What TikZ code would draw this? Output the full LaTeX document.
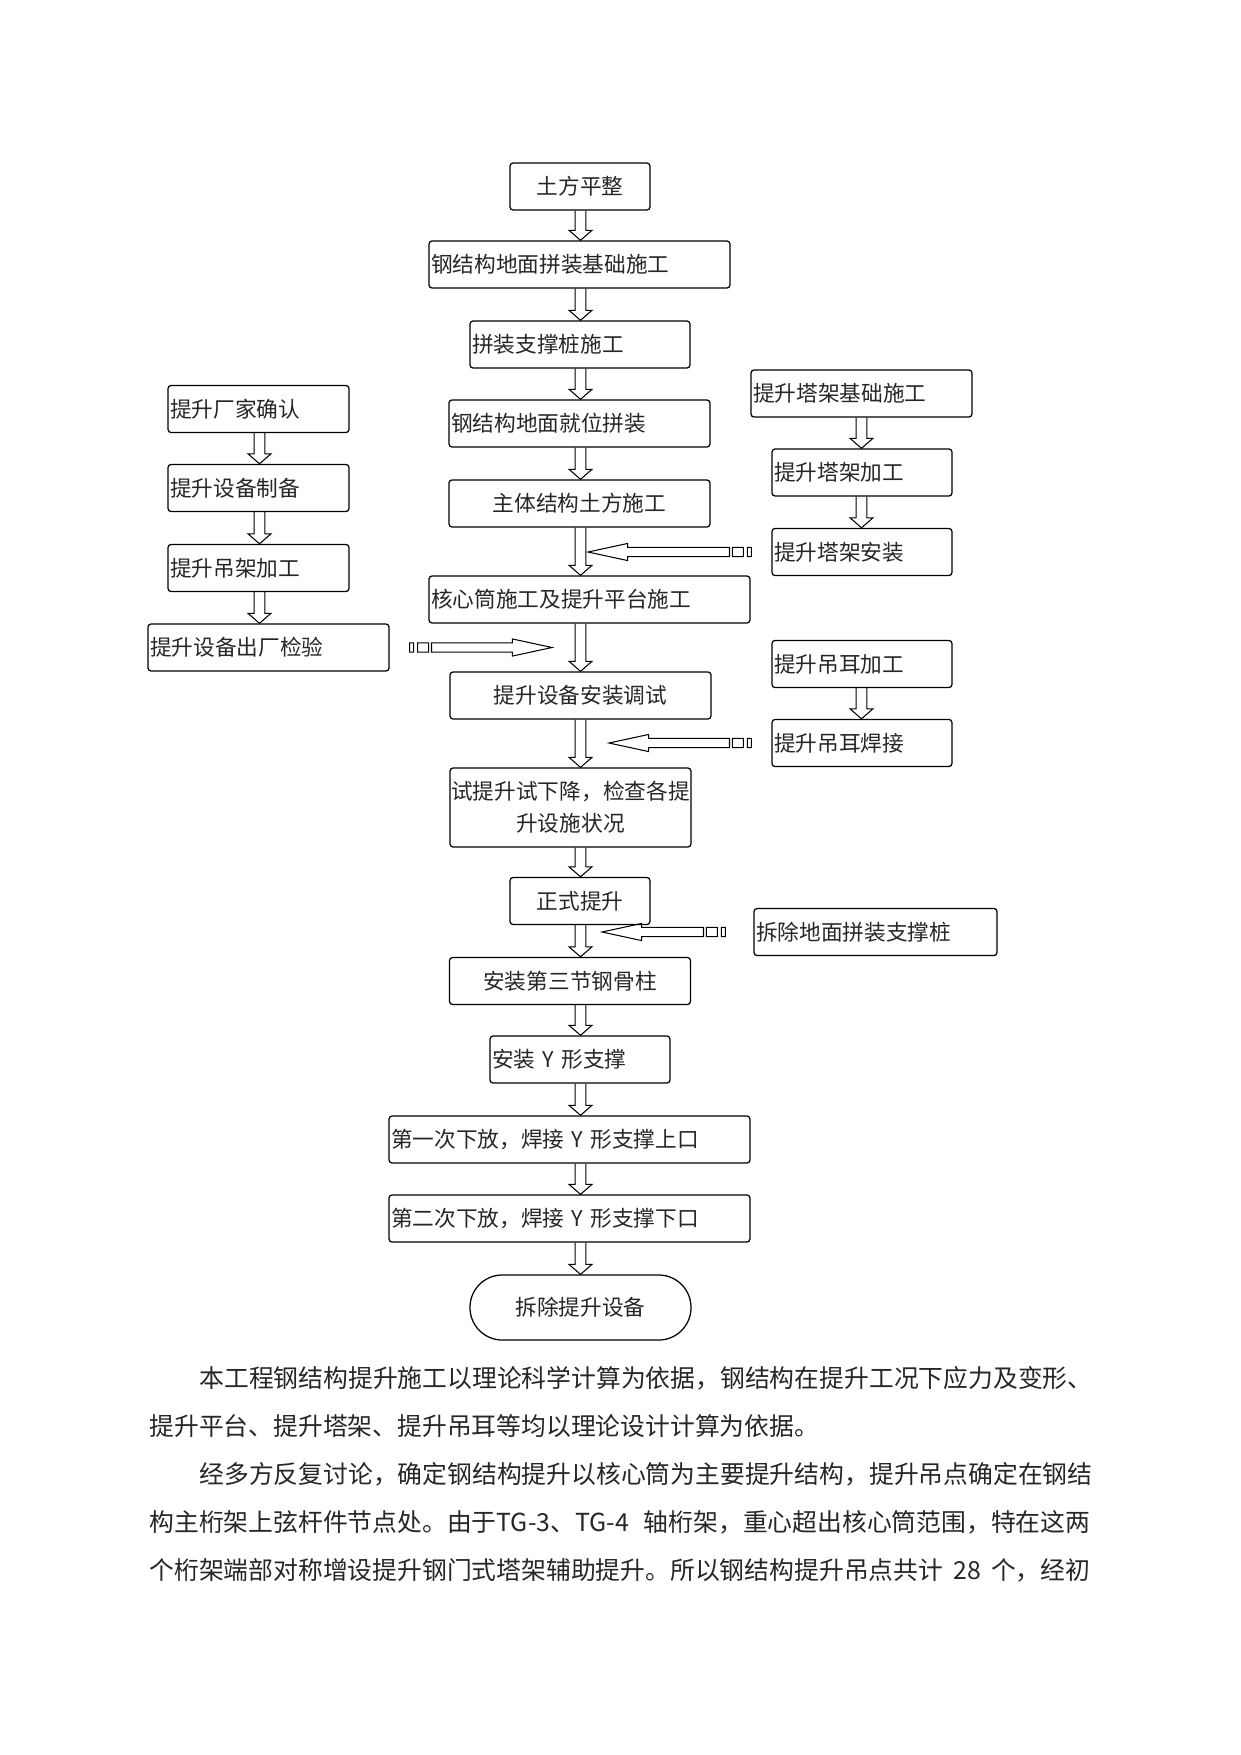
\documentclass[tikz,border=0pt]{standalone}
\usepackage{fontspec}
\newfontfamily\cjk{Noto Sans CJK SC}
\usetikzlibrary{calc}
\tikzset{
  box/.style 2 args={draw, rounded corners=1.5pt, line width=0.6pt, text=black!85,
    font=\cjk\fontsize{10.4}{15.4}\selectfont, inner xsep=1pt, inner ysep=0pt,
    minimum height=22.6pt, minimum width=#1*0.4797pt, text width=#1*0.4797pt-2pt, align=#2},
  hollow/.style={line width=0.5pt, to path={let \p1=(\tikztostart), \p2=(\tikztotarget) in
    (\x1-2.6pt,\y1) -- (\x1-2.6pt,\y2+4.8pt) -- (\x1-5.5pt,\y2+4.8pt) -- (\x1,\y2)
    -- (\x1+5.5pt,\y2+4.8pt) -- (\x1+2.6pt,\y2+4.8pt) -- (\x1+2.6pt,\y1)}},
  striped/.style={line width=0.5pt, to path={let \p1=(\tikztostart), \p2=(\tikztotarget),
    \n1={(\x2-\x1)/abs(\x2-\x1)} in
    (\x1,\y1-2.2pt) rectangle (\x1+\n1*1.9pt,\y1+2.2pt)
    (\x1+\n1*3.8pt,\y1-2.2pt) rectangle (\x1+\n1*9.1pt,\y1+2.2pt)
    (\x1+\n1*10.5pt,\y1-2.2pt) -- (\x2-\n1*19pt,\y1-2.2pt) -- (\x2-\n1*19pt,\y1-4.1pt)
    -- (\x2,\y1) -- (\x2-\n1*19pt,\y1+4.1pt) -- (\x2-\n1*19pt,\y1+2.2pt)
    -- (\x1+\n1*10.5pt,\y1+2.2pt) -- cycle}},
  para/.style={anchor=west, inner sep=0pt, text=black!85, font=\cjk\fontsize{11.9}{14}\selectfont}
}
\begin{document}
\begin{tikzpicture}[x=0.4797pt, y=-0.4797pt]
  \useasboundingbox (0,0) rectangle (1241,1755);

  \node[box={140}{center}] (tf)   at (580,186.5)   {土方平整};
  \node[box={301}{left}]   (jc)   at (579.5,264.5) {钢结构地面拼装基础施工};
  \node[box={220}{left}]   (zc)   at (580,344.5)   {拼装支撑桩施工};
  \node[box={261}{left}]   (pz)   at (579.5,423.5) {钢结构地面就位拼装};
  \node[box={261}{center}] (tfsg) at (579.5,503.5) {主体结构土方施工};
  \node[box={321}{left}]   (hxt)  at (589.5,599.5) {核心筒施工及提升平台施工};
  \node[box={261}{center}] (az)   at (580.5,695.5) {提升设备安装调试};
  \node[box={241}{center}, inner xsep=0pt, text width=115.6pt, minimum height=37.9pt] (sts) at (570.5,807.5) {试提升试下降，检查各提\\升设施状况};
  \node[box={140}{center}] (zs)   at (580,901)     {正式提升};
  \node[box={241}{center}] (gg)   at (570,981)     {安装第三节钢骨柱};
  \node[box={180}{left}]   (yx)   at (580,1059.5)  {安装 Y 形支撑};
  \node[box={361}{left}]   (xf1)  at (569.5,1139.5){第一次下放，焊接 Y 形支撑上口};
  \node[box={361}{left}]   (xf2)  at (569.5,1218.5){第二次下放，焊接 Y 形支撑下口};
  \node[box={221}{center}, rounded corners=15.5pt, minimum height=31.2pt] (cc) at (580.5,1307.5) {拆除提升设备};

  \node[box={181}{left}] (cj) at (258.5,409)   {提升厂家确认};
  \node[box={181}{left}] (zb) at (258.5,488)   {提升设备制备};
  \node[box={181}{left}] (dj) at (258.5,568)   {提升吊架加工};
  \node[box={241}{left}] (jy) at (268.5,647.5) {提升设备出厂检验};

  \node[box={221}{left}] (tjjc) at (861.5,393.5) {提升塔架基础施工};
  \node[box={180}{left}] (tjjg) at (862,472.5)   {提升塔架加工};
  \node[box={180}{left}] (tjaz) at (862,552)     {提升塔架安装};
  \node[box={180}{left}] (deg)  at (862,664)     {提升吊耳加工};
  \node[box={180}{left}] (dehj) at (862,743)     {提升吊耳焊接};
  \node[box={243}{left}] (ccz)  at (875.5,932)   {拆除地面拼装支撑桩};

  \coordinate (mc) at (580.5,0);
  \coordinate (lc) at (259.5,0);
  \coordinate (rc) at (861.5,0);
  \coordinate (t1) at (588,552);
  \coordinate (t2) at (552,648);
  \coordinate (t3) at (609,743);
  \coordinate (t4) at (602,932);

  \foreach \a/\b in {tf/jc, jc/zc, zc/pz, pz/tfsg, tfsg/hxt, hxt/az, az/sts, sts/zs, zs/gg, gg/yx, yx/xf1, xf1/xf2, xf2/cc}
    \draw[hollow] (\a.south -| mc) to (\b.north -| mc);
  \foreach \a/\b in {cj/zb, zb/dj, dj/jy}
    \draw[hollow] (\a.south -| lc) to (\b.north -| lc);
  \foreach \a/\b in {tjjc/tjjg, tjjg/tjaz, deg/dehj}
    \draw[hollow] (\a.south -| rc) to (\b.north -| rc);

  \draw[striped] ($(tjaz.west)+(-20,0)$) to (t1);
  \draw[striped] ($(jy.east)+(20,0)$) to (t2);
  \draw[striped] ($(dehj.west)+(-20,0)$) to (t3);
  \draw[striped] ($(ccz.west)+(-28,0)$) to (t4);

  \node[para] (p1) at (199,1378) {本工程钢结构提升施工以理论科学计算为依据，钢结构在提升工况下应力及变形、};
  \node[para] (p2) at (149,1426) {提升平台、提升塔架、提升吊耳等均以理论设计计算为依据。};
  \node[para] (p3) at (199,1474) {经多方反复讨论，确定钢结构提升以核心筒为主要提升结构，提升吊点确定在钢结};
  \node[para] (p4) at (149,1522) {\makebox[451.4pt][s]{构主桁架上弦杆件节点处。由于TG-3、TG-4 轴桁架，重心超出核心筒范围，特在这两}};
  \node[para] (p5) at (149,1570) {\makebox[451.4pt][s]{个桁架端部对称增设提升钢门式塔架辅助提升。所以钢结构提升吊点共计 28 个，经初}};
\end{tikzpicture}
\end{document}
